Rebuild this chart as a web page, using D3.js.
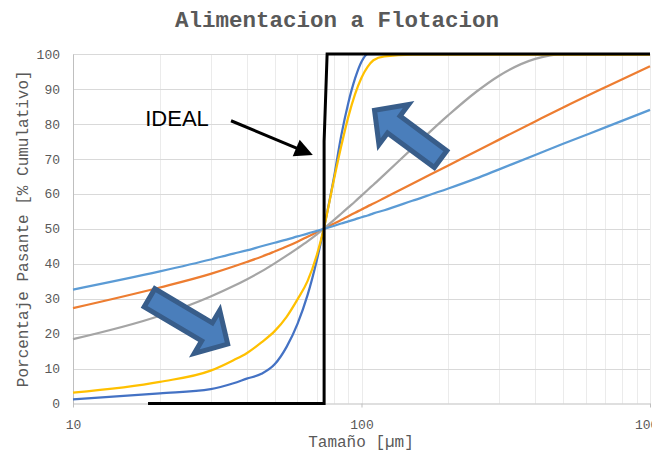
<!DOCTYPE html>
<html>
<head>
<meta charset="utf-8">
<script src="https://cdn.jsdelivr.net/npm/d3@7"></script>
<style>
  html, body { margin: 0; padding: 0; background: #ffffff; overflow: hidden; }
  svg { display: block; }
</style>
</head>
<body>
<svg id="chart" width="652" height="451"></svg>
<script>
// Particle size grid (µm) shared by the measured curves
const sizes = [10, 20, 30, 36, 40, 45, 50, 55, 60, 65, 70, 74, 80, 85, 90, 95, 100, 105, 110, 120, 150, 200, 250, 300, 400, 500, 700, 1000];

// Cumulative % passing for each feed curve
const pasanteAzul     = [1.2, 2.9, 4.1, 5.8, 7.1, 8.5, 11.2, 16.2, 22.8, 31.0, 41.0, 50.0, 64.0, 76.5, 86.0, 93.0, 97.8, 100, 100, 100, 100, 100, 100, 100, 100, 100, 100, 100];
const pasanteNaranja  = [27.3, 33.2, 37.1, 39.2, 40.5, 42.0, 43.5, 44.9, 46.3, 47.7, 49.0, 50.0, 51.4, 52.5, 53.6, 54.6, 55.5, 56.4, 57.2, 58.8, 62.9, 68.1, 72.2, 75.5, 80.7, 84.7, 90.5, 96.5];
const pasanteGris     = [18.4, 25.1, 30.6, 33.6, 35.5, 37.8, 40.1, 42.3, 44.4, 46.4, 48.4, 50.0, 52.4, 54.3, 56.1, 57.8, 59.5, 61.1, 62.6, 65.5, 73.0, 82.5, 89.2, 93.8, 98.6, 100, 100, 100];
const pasanteAmarillo = [3.1, 6.2, 9.4, 12.4, 14.4, 17.5, 20.7, 24.8, 29.8, 35.0, 42.5, 50.0, 63.5, 73.5, 82.0, 88.5, 93.2, 96.3, 98.2, 99.3, 99.8, 99.8, 99.8, 99.8, 99.8, 99.8, 99.8, 99.8];
const pasanteCeleste  = [32.6, 37.8, 41.2, 42.9, 43.8, 45.0, 46.0, 46.9, 47.8, 48.6, 49.4, 50.0, 50.8, 51.5, 52.1, 52.7, 53.3, 53.8, 54.4, 55.3, 58.0, 61.5, 64.4, 67.0, 71.1, 74.3, 79.0, 84.0];

// Ideal (sharp cut) curve
const idealTamano  = [18.2, 74.2, 74.2, 76, 1000];
const idealPasante = [0, 0, 75, 100, 100];

// Axis ticks
const xTicks = [10, 100, 1000];
const yTicks = [0, 10, 20, 30, 40, 50, 60, 70, 80, 90, 100];

// Annotations anchored in data space [size, %]
const flechaFina   = { tail: [18.1, 30.6], tip: [35.2, 16.5] };
const flechaGruesa = { tail: [191, 69.5], tip: [108.5, 84.5] };
const etiquetaIdeal = { text: "IDEAL", at: [17.8, 79.4], from: [35.3, 80.9], to: [67.8, 71.1] };

const series = [
  { values: pasanteAzul,     color: "#4472C4" },
  { values: pasanteNaranja,  color: "#ED7D31" },
  { values: pasanteGris,     color: "#A5A5A5" },
  { values: pasanteAmarillo, color: "#FFC000" },
  { values: pasanteCeleste,  color: "#5B9BD5" }
];

const svg = d3.select("#chart");
const mono = "'Liberation Mono', 'Courier New', monospace";

const x = d3.scaleLog().domain([10, 1000]).range([73, 650]);
const y = d3.scaleLinear().domain([0, 100]).range([403.5, 54]);
const crisp = v => Math.round(v) + 0.5;

// Title
svg.append("text")
  .attr("x", 337).attr("y", 27)
  .attr("text-anchor", "middle")
  .attr("font-family", mono)
  .attr("font-weight", "bold")
  .attr("font-size", 22.5)
  .attr("fill", "#595959")
  .text("Alimentacion a Flotacion");

// Gridlines
const grid = svg.append("g");
grid.selectAll("line.v").data(x.ticks()).join("line")
  .attr("class", "v")
  .attr("x1", d => crisp(x(d))).attr("x2", d => crisp(x(d)))
  .attr("y1", y(100)).attr("y2", y(0))
  .attr("stroke", "#ebebeb").attr("stroke-width", 1);
grid.selectAll("line.h").data(yTicks.filter(d => d > 0)).join("line")
  .attr("class", "h")
  .attr("x1", x(10)).attr("x2", x(1000))
  .attr("y1", d => crisp(y(d))).attr("y2", d => crisp(y(d)))
  .attr("stroke", "#d9d9d9").attr("stroke-width", 1);

// Axes
const yAxis = svg.append("g")
  .attr("transform", `translate(${crisp(x(10)) - 0.5},0)`)
  .call(d3.axisLeft(y).tickValues(yTicks).tickSize(0).tickSizeOuter(0).tickPadding(13));
const xAxis = svg.append("g")
  .attr("transform", `translate(0,${y(0)})`)
  .call(d3.axisBottom(x).tickValues(xTicks).tickFormat(d3.format("d")).tickSize(4).tickSizeOuter(0).tickPadding(12));
[xAxis, yAxis].forEach(a => {
  a.select(".domain").attr("stroke", "#bfbfbf").attr("stroke-width", 1);
  a.selectAll(".tick line").attr("stroke", "#bfbfbf");
  a.selectAll(".tick text")
    .attr("font-family", mono).attr("font-size", 13).attr("fill", "#595959");
});

// Axis titles
svg.append("text")
  .attr("x", 361).attr("y", 447)
  .attr("text-anchor", "middle")
  .attr("font-family", mono).attr("font-size", 16).attr("fill", "#595959")
  .text("Tamaño [µm]");
svg.append("text")
  .attr("transform", `translate(28,${(y(0) + y(100)) / 2}) rotate(-90)`)
  .attr("text-anchor", "middle")
  .attr("font-family", mono).attr("font-size", 16).attr("fill", "#595959")
  .text("Porcentaje Pasante [% Cumulativo]");

// Size-distribution curves
const line = d3.line()
  .x(d => x(d[0])).y(d => y(d[1]))
  .curve(d3.curveMonotoneX);
const curves = svg.append("g");
series.forEach(s => {
  curves.append("path")
    .datum(sizes.map((t, i) => [t, s.values[i]]))
    .attr("d", line)
    .attr("fill", "none")
    .attr("stroke", s.color)
    .attr("stroke-width", 2.25)
    .attr("stroke-linejoin", "round");
});

// Ideal curve
curves.append("path")
  .datum(idealTamano.map((t, i) => [t, idealPasante[i]]))
  .attr("d", d3.line().x(d => x(d[0])).y(d => y(d[1])))
  .attr("fill", "none")
  .attr("stroke", "#000000")
  .attr("stroke-width", 3)
  .attr("stroke-linejoin", "miter");

// Block arrows showing the shift of the curves
function blockArrow(a) {
  const T = [x(a.tail[0]), y(a.tail[1])];
  const P = [x(a.tip[0]), y(a.tip[1])];
  const len = Math.hypot(P[0] - T[0], P[1] - T[1]);
  const u = [(P[0] - T[0]) / len, (P[1] - T[1]) / len];
  const n = [-u[1], u[0]];
  const t0 = [T[0] + 2.5 * u[0], T[1] + 2.5 * u[1]];
  const p0 = [P[0] - 3.5 * u[0], P[1] - 3.5 * u[1]];
  const headLen = 24, shaftHalf = 10.5, headHalf = 25;
  const B = [p0[0] - headLen * u[0], p0[1] - headLen * u[1]];
  const off = (p, k) => [p[0] + n[0] * k, p[1] + n[1] * k];
  return [off(t0, shaftHalf), off(B, shaftHalf), off(B, headHalf), p0,
          off(B, -headHalf), off(B, -shaftHalf), off(t0, -shaftHalf)];
}
svg.append("g").selectAll("polygon").data([flechaFina, flechaGruesa]).join("polygon")
  .attr("points", d => blockArrow(d).map(p => p.join(",")).join(" "))
  .attr("fill", "#4A7EBB")
  .attr("stroke", "#385D8A")
  .attr("stroke-width", 5)
  .attr("stroke-linejoin", "miter")
  .attr("stroke-miterlimit", 10);

// IDEAL label with pointer
const ann = svg.append("g");
ann.append("text")
  .attr("x", x(etiquetaIdeal.at[0])).attr("y", y(etiquetaIdeal.at[1]))
  .attr("font-family", "'Liberation Sans', Arial, sans-serif")
  .attr("font-size", 22).attr("fill", "#000000")
  .text(etiquetaIdeal.text);
{
  const S = [x(etiquetaIdeal.from[0]), y(etiquetaIdeal.from[1])];
  const E = [x(etiquetaIdeal.to[0]), y(etiquetaIdeal.to[1])];
  const len = Math.hypot(E[0] - S[0], E[1] - S[1]);
  const u = [(E[0] - S[0]) / len, (E[1] - S[1]) / len];
  const n = [-u[1], u[0]];
  const hl = 18, hw = 9;
  const B = [E[0] - hl * u[0], E[1] - hl * u[1]];
  ann.append("line")
    .attr("x1", S[0]).attr("y1", S[1])
    .attr("x2", B[0] + u[0]).attr("y2", B[1] + u[1])
    .attr("stroke", "#000000").attr("stroke-width", 3);
  ann.append("polygon")
    .attr("points", [E, [B[0] + n[0] * hw, B[1] + n[1] * hw], [B[0] - n[0] * hw, B[1] - n[1] * hw]]
      .map(p => p.join(",")).join(" "))
    .attr("fill", "#000000");
}
</script>
</body>
</html>
